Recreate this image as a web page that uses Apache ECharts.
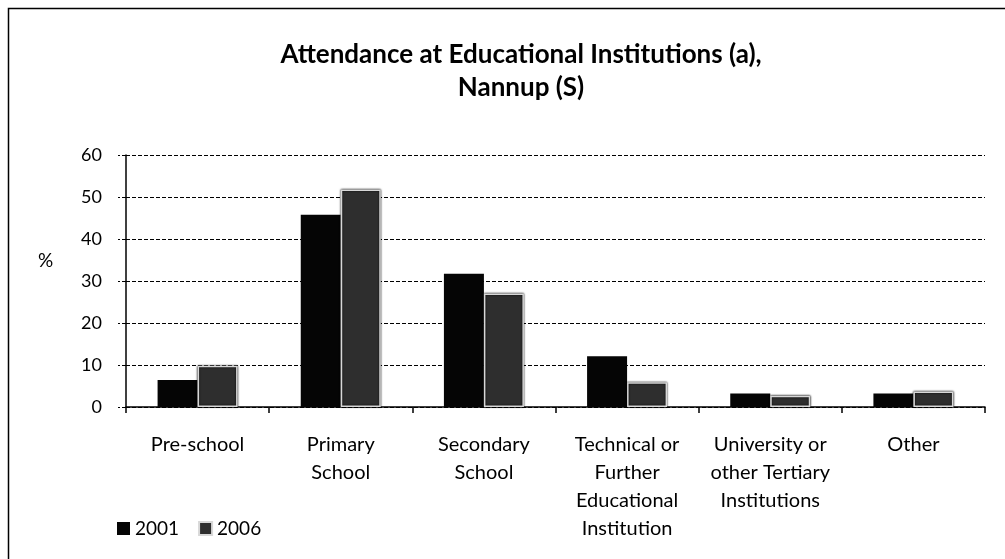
<!DOCTYPE html>
<html>
<head>
<meta charset="utf-8">
<script src="https://cdn.jsdelivr.net/npm/echarts@6/dist/echarts.min.js"></script>
<style>
  html, body { margin: 0; padding: 0; background: #fff; }
  #chart { width: 1005px; height: 559px; }
</style>
</head>
<body>
<div id="chart"></div>
<script>
const categories = [
  'Pre-school',
  'Primary\nSchool',
  'Secondary\nSchool',
  'Technical or\nFurther\nEducational\nInstitution',
  'University or\nother Tertiary\nInstitutions',
  'Other'
]
const values2001 = [6.4, 45.8, 31.7, 12.1, 3.2, 3.2]
const values2006 = [9.8, 51.8, 27.0, 5.9, 2.7, 3.7]
const yTicks = [0, 10, 20, 30, 40, 50, 60]

const font = 'Lato, "Open Sans", sans-serif'
const chart = echarts.init(document.getElementById('chart'))

let option = {
    backgroundColor: '#fff',
    animation: false,
    title: {
        text: 'Attendance at Educational Institutions (a),\nNannup (S)',
        left: 516,
        top: 33,
        textAlign: 'center',
        textStyle: {
            fontFamily: font,
            fontWeight: 'bold',
            fontSize: 26,
            lineHeight: 33,
            color: '#000'
        }
    },
    legend: {
        left: 112,
        top: 514,
        itemWidth: 13,
        itemHeight: 13,
        itemGap: 19,
        icon: 'rect',
        data: ['2001', '2006'],
        textStyle: {fontFamily: font, fontSize: 19, color: '#000'}
    },
    grid: {left: 126, right: 20, top: 155, bottom: 152},
    xAxis: {
        type: 'category',
        data: categories,
        axisLine: {lineStyle: {color: '#000', width: 1.5}},
        axisTick: {show: true, alignWithLabel: false, length: 6, lineStyle: {color: '#000', width: 1.5}},
        axisLabel: {
            interval: 0,
            margin: 24,
            fontFamily: font,
            fontSize: 20,
            lineHeight: 28,
            color: '#000'
        }
    },
    yAxis: {
        type: 'value',
        min: yTicks[0],
        max: yTicks[yTicks.length - 1],
        interval: 10,
        axisLine: {show: true, lineStyle: {color: '#000', width: 1.5}},
        axisTick: {show: true, length: 8, lineStyle: {color: '#000', type: 'dashed'}},
        axisLabel: {fontFamily: font, fontSize: 18, color: '#000', margin: 24},
        splitLine: {lineStyle: {color: '#000', type: [4, 2], width: 1.2}}
    },
    series: [
        {
            name: '2001',
            type: 'bar',
            data: values2001,
            barWidth: 40,
            barGap: '0%',
            itemStyle: {color: '#050505'}
        },
        {
            name: '2006',
            type: 'bar',
            data: values2006,
            barWidth: 40,
            itemStyle: {
                color: '#2e2e2e',
                borderColor: '#d8d8d8',
                borderWidth: 1.5,
                shadowColor: '#000',
                shadowBlur: 2
            }
        }
    ],
    graphic: [
        {
            type: 'rect',
            shape: {x: 8.5, y: 8.5, width: 1010, height: 560},
            style: {fill: 'none', stroke: '#000', lineWidth: 1.5},
            silent: true
        },
        {
            type: 'text',
            left: 38,
            top: 251,
            style: {text: '%', font: '19px ' + font, fill: '#000'},
            silent: true
        }
    ]
}

chart.setOption(option)
</script>
</body>
</html>
